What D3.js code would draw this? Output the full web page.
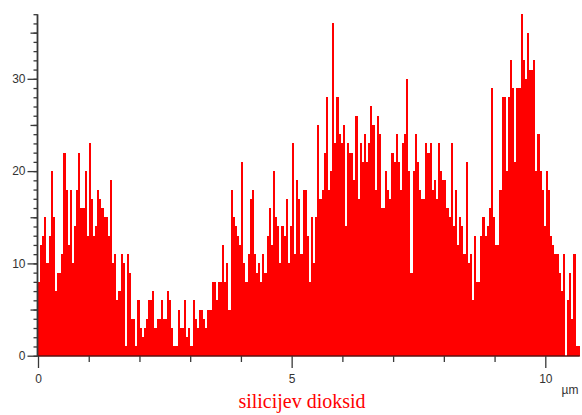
<!DOCTYPE html>
<html>
<head>
<meta charset="utf-8">
<script src="https://cdn.jsdelivr.net/npm/d3@7"></script>
<style>
html,body{margin:0;padding:0;background:#fff;}
svg{display:block;}
</style>
</head>
<body>
<svg id="chart" width="582" height="415"></svg>
<script>
// Histogram counts, 256 bins from 0 µm
const counts = [
 8,12,13,15,10,13,20,15,7,9,9,11,22,18,12,18,10,14,18,22,16,16,20,13,23,17,13,14,18,17,16,15,
 15,13,19,10,11,6,7,11,10,1,11,9,4,4,1,6,3,2,3,4,6,6,7,3,4,4,6,4,4,7,6,3,
 1,1,5,3,3,6,2,3,1,6,4,3,5,5,4,3,5,5,8,8,6,8,8,12,8,10,5,18,15,14,13,12,
 21,10,8,11,17,18,11,9,10,8,11,9,13,16,12,20,15,14,10,14,13,17,10,14,23,11,19,17,11,18,18,13,
 8,15,10,15,25,17,18,22,28,18,20,36,23,28,24,23,25,14,23,22,22,19,26,17,23,21,24,21,23,27,25,18,
 26,24,16,16,20,18,17,22,21,24,21,18,23,24,30,20,9,20,24,21,18,17,17,23,22,23,18,19,17,23,20,19,
 19,16,15,23,14,18,12,15,14,11,21,10,11,6,13,8,8,13,15,13,14,16,29,15,12,12,18,28,28,20,28,32,
 29,21,29,29,37,32,30,35,31,31,32,20,24,20,18,14,20,18,13,12,11,11,9,7,11,0,6,9,4,11,1,1
];
const binWidth = 0.04172;           // µm per bin
const xMajorTicks = [0, 5, 10];
const xMinorTicks = [1, 2, 3, 4, 6, 7, 8, 9];
const yMajorTicks = [0, 10, 20, 30];
const yMidTicks = [5, 15, 25, 35];
const yMinorTicks = d3.range(0, 38);
const xUnit = "µm";
const title = "silicijev dioksid";

const svg = d3.select("#chart");
const x = d3.scaleLinear().domain([0, 10]).range([38, 545.3]);
const y = d3.scaleLinear().domain([0, 37]).range([355.7, 14.2]);

const data = counts.map((c, i) => ({x0: i * binWidth, x1: (i + 1) * binWidth, c}));

svg.append("g").attr("shape-rendering", "crispEdges")
  .selectAll("rect").data(data).join("rect")
  .attr("x", d => x(d.x0))
  .attr("width", d => x(d.x1) - x(d.x0))
  .attr("y", d => y(d.c))
  .attr("height", d => y(0) - y(d.c))
  .attr("fill", "#ff0000");

const axisColor = "#383838";
const font = "'Liberation Sans', Arial, sans-serif";

function styleAxis(g) {
  g.select(".domain").remove();
  g.selectAll("line").attr("stroke", axisColor).attr("stroke-width", 1.3);
  g.selectAll("text").attr("fill", "#333").style("font-family", font).style("font-size", "12px");
}

// Y axis
const yx = 37.5;
svg.append("g").attr("transform", `translate(${yx},0)`)
  .call(d3.axisLeft(y).tickValues(yMinorTicks).tickSize(4).tickFormat(""))
  .call(styleAxis);
svg.append("g").attr("transform", `translate(${yx},0)`)
  .call(d3.axisLeft(y).tickValues(yMidTicks).tickSize(7).tickFormat(""))
  .call(styleAxis);
svg.append("g").attr("transform", `translate(${yx},0)`)
  .call(d3.axisLeft(y).tickValues(yMajorTicks).tickSize(10).tickPadding(2).tickFormat(d3.format("d")))
  .call(styleAxis);
svg.append("line")
  .attr("x1", yx).attr("x2", yx).attr("y1", y(0) + 1).attr("y2", y(37))
  .attr("stroke", axisColor).attr("stroke-width", 1.8);

// X axis
const xy = 356;
svg.append("line")
  .attr("x1", x(0)).attr("x2", x(counts.length * binWidth)).attr("y1", xy).attr("y2", xy)
  .attr("stroke", "#5a1010").attr("stroke-width", 1.5);
svg.append("g").attr("transform", `translate(0,${xy})`)
  .call(d3.axisBottom(x).tickValues(xMinorTicks).tickSize(6).tickFormat(""))
  .call(styleAxis);
svg.append("g").attr("transform", `translate(0,${xy})`)
  .call(d3.axisBottom(x).tickValues(xMajorTicks).tickSize(12).tickPadding(6).tickFormat(d3.format("d")))
  .call(styleAxis);

svg.append("text")
  .attr("x", 570).attr("y", 394)
  .attr("text-anchor", "middle")
  .attr("fill", "#333")
  .style("font-family", font).style("font-size", "12px")
  .text(xUnit);

svg.append("text")
  .attr("x", 302).attr("y", 408)
  .attr("text-anchor", "middle")
  .attr("fill", "#ff0000")
  .style("font-family", "'Liberation Serif', 'Times New Roman', serif")
  .style("font-size", "20px")
  .text(title);
</script>
</body>
</html>
